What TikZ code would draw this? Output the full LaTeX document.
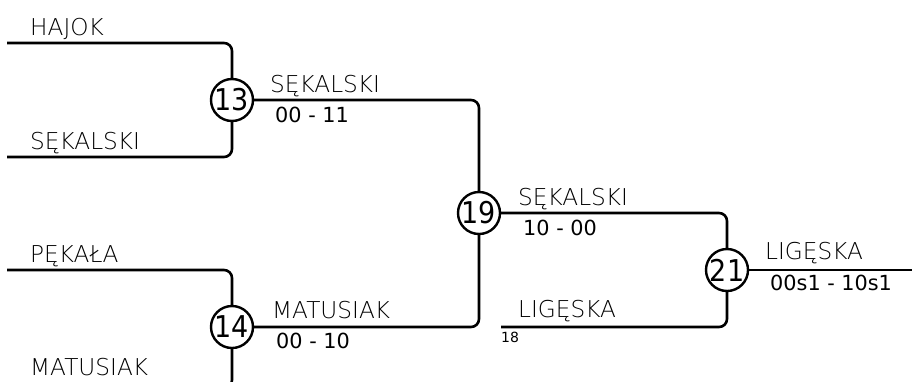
\documentclass[tikz,border=0pt]{standalone}
\usepackage{fontspec}
\setmainfont{DejaVu Sans}
\newfontfamily\thinfont{DejaVu Sans ExtraLight}
\newfontfamily\condfont{DejaVu Sans Condensed}
\begin{document}
\begin{tikzpicture}[x=1pt,y=-1pt,
  wire/.style={line width=2.6pt, rounded corners=8pt},
  game/.style={circle, draw, line width=2.4pt, fill=white, minimum size=42pt, inner sep=0pt, font=\condfont\fontsize{30}{30}\selectfont},
  pname/.style={anchor=base west, inner sep=0pt, font=\thinfont\fontsize{23.2}{23.2}\selectfont},
  score/.style={anchor=base west, inner sep=0pt, font=\fontsize{20.8}{20.8}\selectfont},
  seed/.style={anchor=base west, inner sep=0pt, font=\fontsize{14}{14}\selectfont}]
\useasboundingbox (0,0) rectangle (912,381);
\clip (0,0) rectangle (912,381);
% endpoints
\coordinate (a1) at (7,43);
\coordinate (a2) at (7,157);
\coordinate (a3) at (7,270);
\coordinate (a4) at (7,388);
\coordinate (b4) at (501,327);
\coordinate (fin) at (912,270);
% games
\node[game] (g13) at (232,100) {13};
\node[game] (g14) at (232,327) {14};
\node[game] (g19) at (479,213) {19};
\node[game] (g21) at (727,270) {21};
% connectors
\draw[wire] (a1) -| (g13.north);
\draw[wire] (a2) -| (g13.south);
\draw[wire] (a3) -| (g14.north);
\draw[wire] (a4) -| (g14.south);
\draw[wire] (g13.east) -| (g19.north);
\draw[wire] (g14.east) -| (g19.south);
\draw[wire] (g19.east) -| (g21.north);
\draw[wire] (b4) -| (g21.south);
\draw[wire] (g21.east) -- (fin);
% labels
\node[pname] (n1) at (30,35) {HAJOK};
\node[pname] (n2) at (30,149) {SĘKALSKI};
\node[pname] (n3) at (30,262) {PĘKAŁA};
\node[pname] (n4) at (30,375) {MATUSIAK};
\node[pname] (w13) at (270,92) {SĘKALSKI};
\node[score] (s13) at (275,122) {00 - 11};
\node[pname] (w14) at (272,318) {MATUSIAK};
\node[score] (s14) at (276,348) {00 - 10};
\node[pname] (w19) at (518,205) {SĘKALSKI};
\node[score] (s19) at (523,235) {10 - 00};
\node[pname] (l18) at (518,317) {LIGĘSKA};
\node[seed] (sd18) at (501,342) {18};
\node[pname] (w21) at (765,259) {LIGĘSKA};
\node[score] (s21) at (770,290) {00s1 - 10s1};
\end{tikzpicture}
\end{document}
